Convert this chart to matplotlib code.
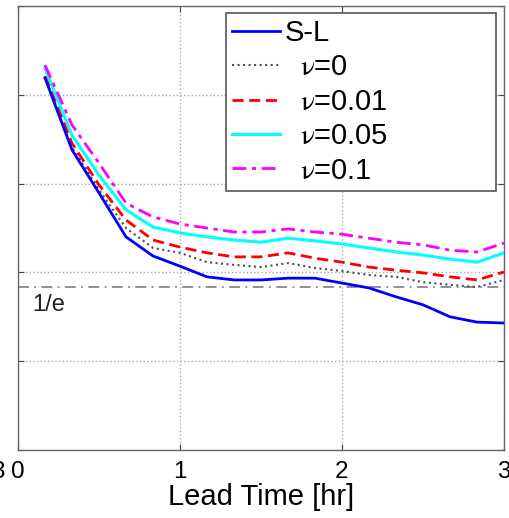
import matplotlib
matplotlib.use("Agg")
import matplotlib.pyplot as plt
import numpy as np

plt.rcParams['font.family'] = ['Liberation Sans', 'DejaVu Sans']
plt.rcParams['mathtext.fontset'] = 'stix'

lead_time = [1/6, 2/6, 3/6, 4/6, 5/6, 1.0, 7/6, 8/6, 9/6, 10/6, 11/6, 2.0,
             13/6, 14/6, 15/6, 16/6, 17/6, 3.0]

sl = [0.838, 0.676, 0.579, 0.480, 0.437, 0.414, 0.390, 0.383, 0.383, 0.387,
      0.387, 0.376, 0.365, 0.345, 0.327, 0.300, 0.288, 0.286]
nu0 = [0.840, 0.682, 0.586, 0.500, 0.455, 0.444, 0.423, 0.417, 0.412, 0.421,
       0.410, 0.403, 0.394, 0.390, 0.378, 0.372, 0.367, 0.383]
nu001 = [0.842, 0.691, 0.597, 0.518, 0.473, 0.457, 0.444, 0.435, 0.435, 0.444,
         0.432, 0.423, 0.412, 0.405, 0.399, 0.390, 0.383, 0.401]
nu005 = [0.860, 0.709, 0.619, 0.541, 0.502, 0.489, 0.480, 0.473, 0.468, 0.477,
         0.471, 0.464, 0.455, 0.446, 0.439, 0.430, 0.423, 0.444]
nu01 = [0.867, 0.732, 0.646, 0.556, 0.525, 0.509, 0.500, 0.491, 0.491, 0.498,
        0.491, 0.486, 0.477, 0.468, 0.462, 0.450, 0.446, 0.466]

labels = ["S-L", r"  $\mathrm{\nu}$=0", r"  $\mathrm{\nu}$=0.01",
          r"  $\mathrm{\nu}$=0.05", r"  $\mathrm{\nu}$=0.1"]
xticks = [0, 1, 2, 3]
yticks = [0, 0.2, 0.4, 0.6, 0.8, 1.0]

W, H = 510, 518
fig = plt.figure(figsize=(W/100, H/100), dpi=100)
L, R, T, B = 18, 504, 6, 450
ax = fig.add_axes([L/W, (H-B)/H, (R-L)/W, (B-T)/H])

ax.plot(lead_time, sl, color='#0000ff', lw=2.0, label=labels[0], zorder=5)
ax.plot(lead_time, nu0, color='#505050', lw=1.5, ls=':', label=labels[1], zorder=4)
ax.plot(lead_time, nu001, color='#ff0000', lw=2.0, ls=(0, (4, 2)), label=labels[2], zorder=4)
ax.plot(lead_time, nu005, color='#00ffff', lw=2.2, label=labels[3], zorder=3)
ax.plot(lead_time, nu01, color='#ff00ff', lw=2.0, ls=(0, (5, 2, 1.5, 2)), label=labels[4], zorder=3)

ax.axhline(1/np.e, color='#888888', lw=1.3, ls=(0, (6, 3, 1, 3)), zorder=2)
ax.text(0.09, 0.327, "1/e", fontsize=17, va='center', ha='left', color='#222222')

ax.set_xlim(0, 3)
ax.set_ylim(0, 1)
ax.set_xticks(xticks)
ax.set_xticklabels([str(v) for v in xticks], fontsize=17.5)
ax.set_yticks(yticks)
ax.set_yticklabels([])
ax.grid(True, color='#aaaaaa', ls=':', lw=1.0)
ax.tick_params(direction='in', top=True, right=True, length=4, color='#444444', pad=8)
for s in ax.spines.values():
    s.set_color('#666666')
    s.set_linewidth(1.0)
ax.set_xlabel("Lead Time [hr]", fontsize=21, labelpad=0)

leg = ax.legend(loc='upper left',
                bbox_to_anchor=((226-L)/(R-L), (B-13)/(B-T), (496-226)/(R-L), 0.001),
                mode='expand', fontsize=21, handlelength=1.64, handletextpad=0.14,
                labelspacing=0.22, borderpad=0.22, borderaxespad=0, fancybox=False,
                framealpha=1, edgecolor='#555555')
leg.get_frame().set_linewidth(1.2)

fig.text(-2/W, 1-472/H, "3", fontsize=17.5, ha='center', va='center')

fig.savefig("out.png", dpi=100)
